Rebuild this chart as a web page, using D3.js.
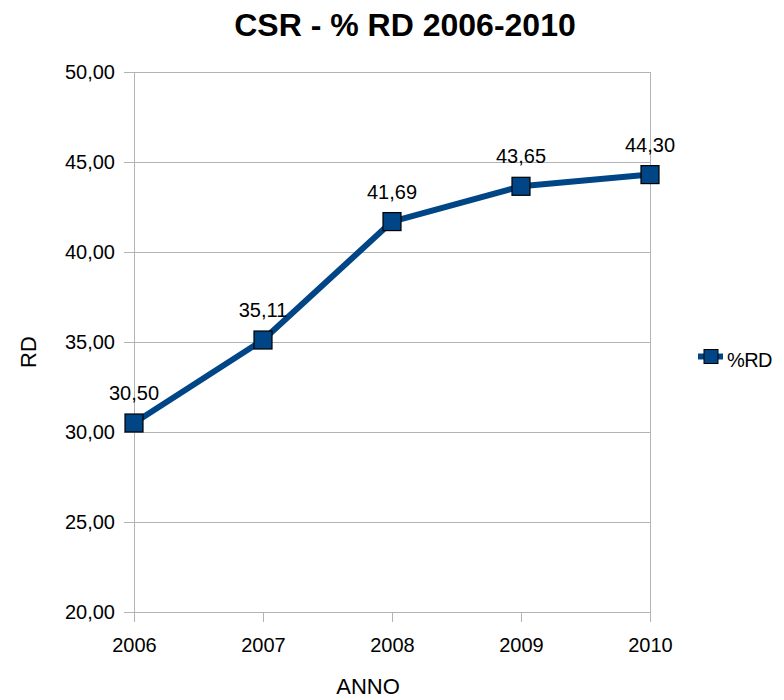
<!DOCTYPE html>
<html lang="it">
<head>
<meta charset="utf-8">
<script src="https://d3js.org/d3.v7.min.js"></script>
<style>
	body { margin: 0; background: #fff; }
	svg { font-family: 'Liberation Sans', Arial, sans-serif; }
	.grid line { stroke: #b3b3b3; stroke-width: 1px; }
	.axis path, .axis line { stroke: #b3b3b3; shape-rendering: crispEdges; }
	.axis text { font-size: 20px; fill: #000; font-family: 'Liberation Sans', Arial, sans-serif; }
</style>
</head>
<body>
<div id="chart"></div>
<script>

var width = 784, height = 700;

// data
var years = ["2006", "2007", "2008", "2009", "2010"];
var rd = [30.50, 35.11, 41.69, 43.65, 44.30];
var yTicks = [20, 25, 30, 35, 40, 45, 50];
var seriesName = "%RD";

var margin = {top: 72, right: 134, bottom: 88, left: 134};
var lineColor = "#004586";

var comma = function(v) { return d3.format(".2f")(v).replace(".", ","); };

var x = d3.scalePoint()
	.domain(years)
	.range([margin.left, width - margin.right]);

var y = d3.scaleLinear()
	.domain([20, 50])
	.range([height - margin.bottom, margin.top]);

var svg = d3.select("#chart").append("svg")
	.attr("width", width)
	.attr("height", height);

// horizontal grid
svg.append("g").attr("class", "grid")
	.selectAll("line")
	.data(yTicks)
	.enter().append("line")
	.attr("x1", margin.left)
	.attr("x2", width - margin.right)
	.attr("y1", function(d) { return Math.round(y(d)) + 0.5; })
	.attr("y2", function(d) { return Math.round(y(d)) + 0.5; });

// right edge of plot wall
svg.append("line")
	.attr("x1", width - margin.right + 0.5)
	.attr("x2", width - margin.right + 0.5)
	.attr("y1", margin.top)
	.attr("y2", height - margin.bottom)
	.style("stroke", "#b3b3b3");

var yAxis = svg.append("g").attr("class", "axis")
	.attr("transform", "translate(" + margin.left + ",0)")
	.call(d3.axisLeft(y).tickValues(yTicks).tickFormat(comma).tickSize(10).tickPadding(9));
yAxis.select(".domain").attr("d", "M0.5," + y(50) + "V" + y(20));

var xAxis = svg.append("g").attr("class", "axis")
	.attr("transform", "translate(0," + (height - margin.bottom) + ")")
	.call(d3.axisBottom(x).tickSize(10).tickPadding(16));
xAxis.select(".domain").remove();

// title and axis names
svg.append("text")
	.attr("x", 405)
	.attr("y", 36)
	.attr("text-anchor", "middle")
	.style("font-size", "32px")
	.style("font-weight", "bold")
	.text("CSR - % RD 2006-2010");

svg.append("text")
	.attr("x", 368)
	.attr("y", 694)
	.attr("text-anchor", "middle")
	.style("font-size", "22px")
	.text("ANNO");

svg.append("text")
	.attr("transform", "translate(36,352) rotate(-90)")
	.attr("text-anchor", "middle")
	.style("font-size", "22px")
	.text("RD");

// the line
var line = d3.line()
	.x(function(d, i) { return x(years[i]); })
	.y(function(d) { return y(d); });

svg.append("path")
	.datum(rd)
	.attr("d", line)
	.style("fill", "none")
	.style("stroke", lineColor)
	.style("stroke-width", 6)
	.style("stroke-linejoin", "round");

svg.selectAll(".marker")
	.data(rd)
	.enter().append("rect")
	.attr("class", "marker")
	.attr("x", function(d, i) { return x(years[i]) - 9; })
	.attr("y", function(d) { return y(d) - 9; })
	.attr("width", 18)
	.attr("height", 18)
	.style("fill", lineColor)
	.style("stroke", "#000")
	.style("stroke-width", 1.2);

svg.selectAll(".label")
	.data(rd)
	.enter().append("text")
	.attr("class", "label")
	.attr("x", function(d, i) { return x(years[i]); })
	.attr("y", function(d) { return y(d) - 23; })
	.attr("text-anchor", "middle")
	.style("font-size", "20px")
	.text(comma);

// legend
var lg = svg.append("g").attr("transform", "translate(698,356.5)");
lg.append("line")
	.attr("x1", 0).attr("x2", 25)
	.style("stroke", lineColor)
	.style("stroke-width", 6);
lg.append("rect")
	.attr("x", 6).attr("y", -7)
	.attr("width", 14).attr("height", 14)
	.style("fill", lineColor)
	.style("stroke", "#000");
lg.append("text")
	.attr("x", 29)
	.attr("y", 10.5)
	.style("font-size", "20px")
	.style("letter-spacing", "-0.6px")
	.text(seriesName);

</script>
</body>
</html>
